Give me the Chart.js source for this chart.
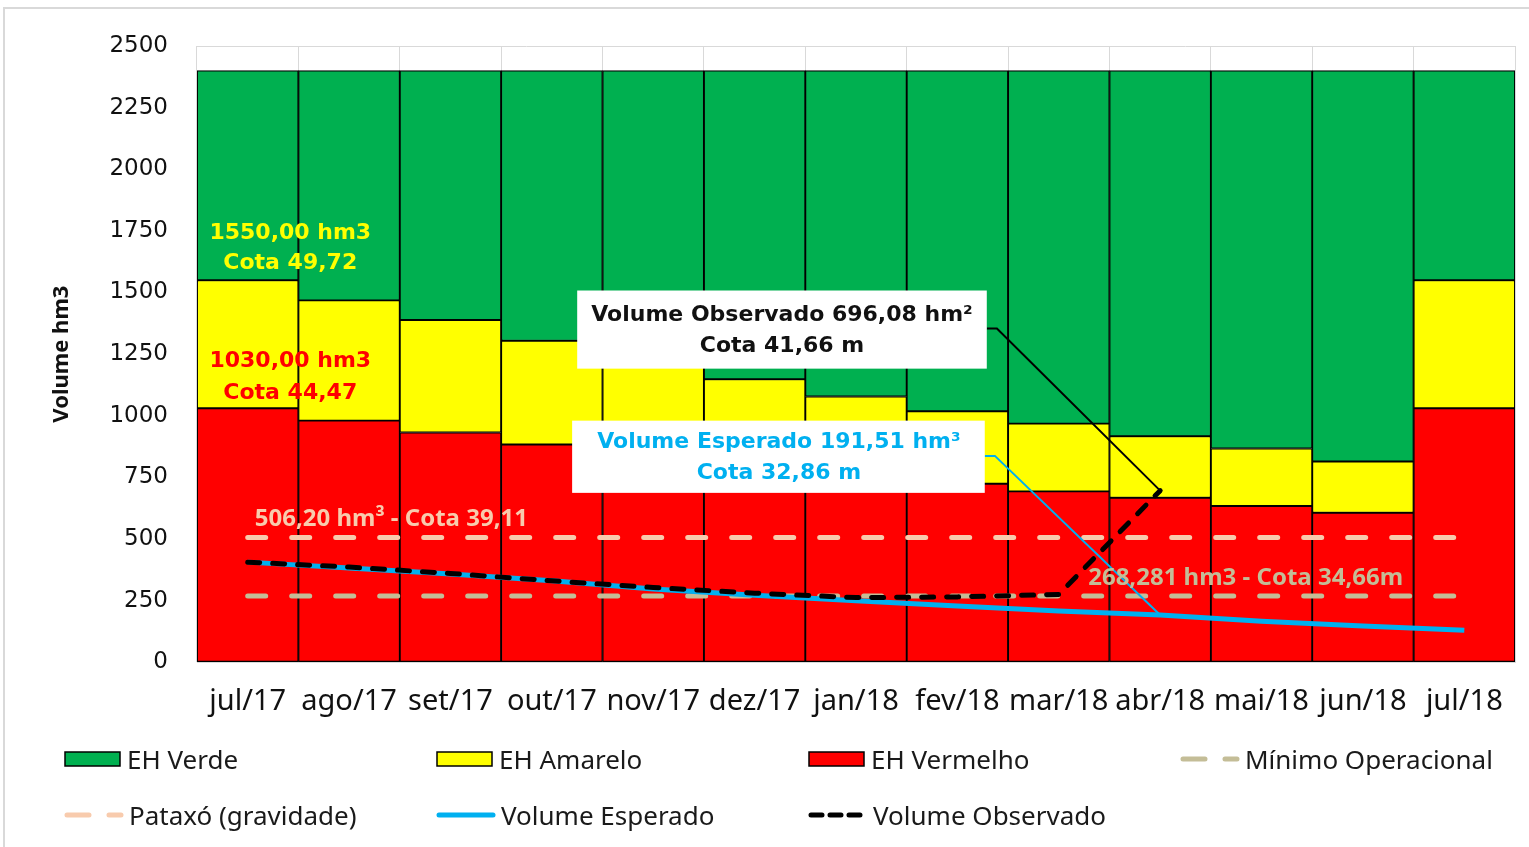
<!DOCTYPE html>
<html>
<head>
<meta charset="utf-8">
<script src="https://cdn.jsdelivr.net/npm/chart.js@4.4.0/dist/chart.umd.min.js"></script>
<style>
html,body{margin:0;padding:0;background:#fff;width:1529px;height:847px;overflow:hidden;}
#frame{position:absolute;left:3px;top:7px;width:1600px;height:900px;border-left:2px solid #d9d9d9;border-top:2px solid #d9d9d9;}
#wrap{position:absolute;left:0;top:0;width:1529px;height:759px;}
#legend{position:absolute;left:64px;top:731px;display:grid;grid-template-columns:372px 372px 372px 372px;grid-auto-rows:56px;font-family:'Noto Sans',sans-serif;font-size:26px;color:#1a1a1a;}
.item{display:flex;align-items:center;white-space:nowrap;}
.item svg{margin-right:5px;flex:none;}
</style>
</head>
<body>
<div id="frame"></div>
<div id="wrap"><canvas id="c" width="1529" height="759"></canvas></div>
<div id="legend"></div>
<script>
// ---- data ----
const months = ['jul/17','ago/17','set/17','out/17','nov/17','dez/17','jan/18','fev/18','mar/18','abr/18','mai/18','jun/18','jul/18'];
const redTop    = [1030, 980, 932, 883, 840, 800, 762, 724, 693, 667, 634, 606, 1030];
const yellowTop = [1550, 1468, 1388, 1304, 1228, 1148, 1078, 1018, 968, 917, 867, 814, 1550];
const greenTop  = [2400, 2400, 2400, 2400, 2400, 2400, 2400, 2400, 2400, 2400, 2400, 2400, 2400];
const minimoOperacional = [268.281, 268.281, 268.281, 268.281, 268.281, 268.281, 268.281, 268.281, 268.281, 268.281, 268.281, 268.281, 268.281];
const pataxo = [506.2, 506.2, 506.2, 506.2, 506.2, 506.2, 506.2, 506.2, 506.2, 506.2, 506.2, 506.2, 506.2];
const volumeEsperado  = [406, 382, 358, 330, 297, 272, 249, 228, 208, 191.51, 166, 147, 130];
const volumeObservado = [406, 386, 360, 330, 303, 280, 262, 265, 275, 696.08, null, null, null];
const yTicks = {min: 0, max: 2500, step: 250};

// annotation content (anchored in data units)
const notes = [
  {x: 0.42, y: 1740, text: '1550,00 hm3', color: '#FFFF00', font: 'bold 22px "DejaVu Sans"', align: 'center'},
  {x: 0.42, y: 1618, text: 'Cota 49,72', color: '#FFFF00', font: 'bold 22px "DejaVu Sans"', align: 'center'},
  {x: 0.42, y: 1220, text: '1030,00 hm3', color: '#FF0000', font: 'bold 22px "DejaVu Sans"', align: 'center'},
  {x: 0.42, y: 1093, text: 'Cota 44,47', color: '#FF0000', font: 'bold 22px "DejaVu Sans"', align: 'center'},
  {x: 5.27, y: 1407, text: 'Volume Observado 696,08 hm²', color: '#111111', font: 'bold 22px "DejaVu Sans"', align: 'center'},
  {x: 5.27, y: 1280, text: 'Cota 41,66 m', color: '#111111', font: 'bold 22px "DejaVu Sans"', align: 'center'},
  {x: 5.24, y: 894, text: 'Volume Esperado 191,51 hm³', color: '#00B0F0', font: 'bold 22px "DejaVu Sans"', align: 'center'},
  {x: 5.24, y: 768, text: 'Cota 32,86 m', color: '#00B0F0', font: 'bold 22px "DejaVu Sans"', align: 'center'},
  {x: 0.07, y: 581, text: '506,20 hm³ - Cota 39,11', color: '#F8CBAD', font: 'bold 24px "Noto Sans"', align: 'left'},
  {x: 8.29, y: 341, text: '268,281 hm3 - Cota 34,66m', color: '#C4BD97', font: 'bold 24px "Noto Sans"', align: 'left'}
];
const boxes = [
  {x0: 3.25, x1: 7.29, y0: 1508, y1: 1191},
  {x0: 3.20, x1: 7.27, y0: 980, y1: 687}
];
const leaders = [
  {color: '#000000', pts: [[7.29, 1354], [7.39, 1354], [9, volumeObservado[9]]]},
  {color: '#00B0F0', pts: [[7.27, 837], [7.37, 837], [9, volumeEsperado[9]]]}
];

const annotPlugin = {
  id: 'annot',
  afterDatasetsDraw(chart) {
    const {ctx, scales: {x, y}} = chart;
    const px = v => x.getPixelForValue(v), py = v => y.getPixelForValue(v);
    ctx.save();
    leaders.forEach(l => {
      ctx.beginPath();
      ctx.strokeStyle = l.color; ctx.lineWidth = 2;
      l.pts.forEach((p, i) => i ? ctx.lineTo(px(p[0]), py(p[1])) : ctx.moveTo(px(p[0]), py(p[1])));
      ctx.stroke();
    });
    boxes.forEach(b => {
      ctx.fillStyle = '#ffffff';
      ctx.fillRect(px(b.x0), py(b.y0), px(b.x1) - px(b.x0), py(b.y1) - py(b.y0));
    });
    ctx.textBaseline = 'middle';
    notes.forEach(n => {
      ctx.font = n.font; ctx.fillStyle = n.color; ctx.textAlign = n.align;
      ctx.fillText(n.text, px(n.x), py(n.y));
    });
    ctx.restore();
  }
};

const barCommon = {type: 'bar', borderColor: '#000', borderWidth: 1.3, borderSkipped: false, grouped: false, barPercentage: 1, categoryPercentage: 1, order: 10};
const lineCommon = {type: 'line', pointRadius: 0, tension: 0, fill: false};

const chart = new Chart(document.getElementById('c'), {
  data: {
    labels: months,
    datasets: [
      Object.assign({}, barCommon, {label: 'EH Verde', data: months.map((m, i) => [yellowTop[i], greenTop[i]]), backgroundColor: '#00B050'}),
      Object.assign({}, barCommon, {label: 'EH Amarelo', data: months.map((m, i) => [redTop[i], yellowTop[i]]), backgroundColor: '#FFFF00'}),
      Object.assign({}, barCommon, {label: 'EH Vermelho', data: months.map((m, i) => [0, redTop[i]]), backgroundColor: '#FF0000'}),
      Object.assign({}, lineCommon, {label: 'Mínimo Operacional', data: minimoOperacional, borderColor: '#C4BD97', borderWidth: 5, borderDash: [18, 26], borderCapStyle: 'round', order: 4}),
      Object.assign({}, lineCommon, {label: 'Pataxó (gravidade)', data: pataxo, borderColor: '#F8CBAD', borderWidth: 5, borderDash: [18, 26], borderCapStyle: 'round', order: 3}),
      Object.assign({}, lineCommon, {label: 'Volume Esperado', data: volumeEsperado, borderColor: '#00B0F0', borderWidth: 5, order: 2}),
      Object.assign({}, lineCommon, {label: 'Volume Observado', data: volumeObservado, borderColor: '#000000', borderWidth: 5, borderDash: [12, 13], borderCapStyle: 'round', order: 1})
    ]
  },
  options: {
    responsive: false,
    animation: false,
    layout: {padding: {left: 0, right: 14, top: 46, bottom: 18}},
    plugins: {legend: {display: false}, tooltip: {enabled: false}},
    scales: {
      x: {
        offset: true,
        grid: {color: '#d9d9d9', offset: true, drawTicks: false},
        border: {color: '#d9d9d9'},
        ticks: {color: '#111', padding: 22, maxRotation: 0, autoSkip: false, font: {family: 'Noto Sans', size: 29}}
      },
      y: {
        min: yTicks.min, max: yTicks.max,
        grid: {color: '#d9d9d9', drawTicks: false},
        border: {display: false},
        ticks: {stepSize: yTicks.step, color: '#111', padding: 29, font: {family: 'DejaVu Sans', size: 23}, callback: v => String(v)},
        title: {display: true, text: 'Volume hm3', color: '#111', padding: {top: 49, bottom: 0}, font: {family: 'Noto Sans', size: 22, weight: 'bold'}},
        afterFit(scale) { scale.width = 197; }
      }
    }
  },
  plugins: [annotPlugin]
});

// HTML legend built from the datasets
const legend = document.getElementById('legend');
chart.data.datasets.forEach(ds => {
  const item = document.createElement('div');
  item.className = 'item';
  let svg;
  if (ds.type === 'bar') {
    svg = `<svg width="58" height="18"><rect x="1" y="2" width="55" height="14" fill="${ds.backgroundColor}" stroke="#000" stroke-width="1.5"/></svg>`;
  } else {
    const dash = ds.borderDash ? (ds.label === 'Volume Observado' ? '11 8' : '22 20') : 'none';
    svg = `<svg width="60" height="18"><line x1="3" y1="9" x2="57" y2="9" stroke="${ds.borderColor}" stroke-width="5" stroke-linecap="round" stroke-dasharray="${dash}"/></svg>`;
  }
  item.innerHTML = svg + '<span>' + ds.label + '</span>';
  legend.appendChild(item);
});
</script>
</body>
</html>
